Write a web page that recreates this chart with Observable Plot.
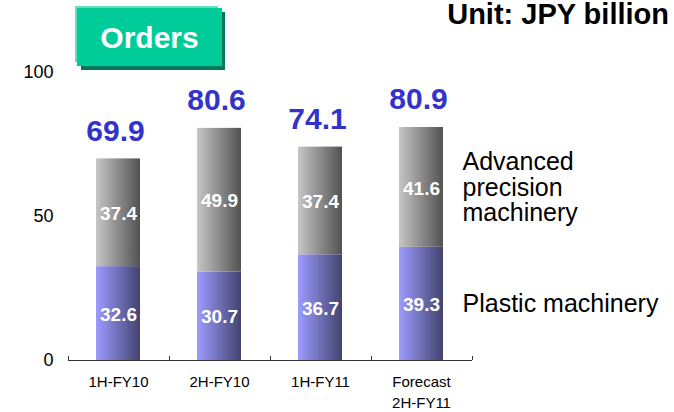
<!DOCTYPE html>
<html>
<head>
<meta charset="utf-8">
<script src="https://cdn.jsdelivr.net/npm/d3@7"></script>
<script src="https://cdn.jsdelivr.net/npm/@observablehq/plot@0.6"></script>
<style>
  html, body { margin: 0; padding: 0; background: #fff; }
  #wrap { position: relative; width: 674px; height: 412px; overflow: hidden; }
</style>
</head>
<body>
<div id="wrap"></div>
<script>
// ---- data ----
const categories = ["1H-FY10", "2H-FY10", "1H-FY11", "Forecast\n2H-FY11"];
const plastic = [32.6, 30.7, 36.7, 39.3];
const advanced = [37.4, 49.9, 37.4, 41.6];
const totals = [69.9, 80.6, 74.1, 80.9];
const seriesNames = ["Plastic machinery", "Advanced\nprecision\nmachinery"];
const seriesFills = ["url(#gradPlastic)", "url(#gradAdvanced)"];
const yTicks = [0, 50, 100];
const title = "Orders";
const unitLabel = "Unit: JPY billion";

// ---- table built from the arrays ----
const rows = [];
categories.forEach((c, i) => {
  rows.push({cat: c, series: 0, value: plastic[i], fill: seriesFills[0]});
  rows.push({cat: c, series: 1, value: advanced[i], fill: seriesFills[1]});
});
const totalRows = categories.map((c, i) => ({cat: c, total: totals[i]}));
const lastCat = categories[categories.length - 1];
const seriesLabelRows = seriesNames.map((name, s) => ({
  cat: lastCat, series: s, name,
  value: s === 0 ? plastic[plastic.length - 1] : advanced[advanced.length - 1]
}));

const FONT = "'Liberation Sans', Arial, Helvetica, sans-serif";

const plot = Plot.plot({
  width: 674,
  height: 412,
  marginLeft: 68,
  marginRight: 202,
  marginTop: 72,
  marginBottom: 52,
  style: {fontFamily: FONT, fontSize: "18px", color: "#000", background: "#fff", overflow: "visible"},
  x: {domain: categories, paddingInner: 0.56, paddingOuter: 0.28, axis: null},
  y: {domain: [0, 100], ticks: yTicks, tickSize: 0, tickPadding: 15, label: null, tickFormat: d => String(d)},
  color: {type: "identity"},
  marks: [
    Plot.barY(rows, Plot.stackY({x: "cat", y: "value", fill: "fill", order: "series"})),
    Plot.text(rows, Plot.stackY({
      x: "cat", y: "value", order: "series", text: d => d.value.toFixed(1),
      fill: "#fff", fontSize: 19, fontWeight: "bold", dy: 1
    })),
    Plot.text(totalRows, {
      x: "cat", y: "total", text: d => d.total.toFixed(1),
      fill: "#3333cc", fontSize: 30, fontWeight: "bold", dy: -28, dx: -3
    }),
    Plot.text(seriesLabelRows, Plot.stackY({
      x: "cat", y: "value", order: "series", text: "name",
      textAnchor: "start", dx: 41, fontSize: 25, lineHeight: 1.02, fill: "#000"
    })),
    Plot.text(categories, {
      x: d => d, y: () => 0, text: d => d, lineAnchor: "top",
      dy: 12, fontSize: 15, lineHeight: 1.4, fill: "#000"
    }),
    Plot.ruleY([0], {stroke: "#333", strokeWidth: 1})
  ]
});

document.getElementById("wrap").appendChild(plot);

// ---- gradients + decorations ----
const svg = d3.select(plot);
const defs = svg.insert("defs", ":first-child");
function grad(id, c0, c1) {
  const g = defs.append("linearGradient").attr("id", id)
    .attr("x1", "0").attr("y1", "0").attr("x2", "1").attr("y2", "0");
  g.append("stop").attr("offset", "0%").attr("stop-color", c0);
  g.append("stop").attr("offset", "100%").attr("stop-color", c1);
}
grad("gradPlastic", "#9c9cff", "#43436f");
grad("gradAdvanced", "#c6c6c6", "#525252");

// boundary ticks on the baseline, from the plot's own scales
const xs = plot.scale("x");
const ys = plot.scale("y");
const band = d3.scaleBand().domain(xs.domain).range(xs.range)
  .paddingInner(xs.paddingInner ?? 0.56).paddingOuter(xs.paddingOuter ?? 0.28).align(xs.align ?? 0.5);
const step = band.step(), bw = band.bandwidth();
const y0 = ys.apply ? ys.apply(0) : d3.scaleLinear().domain(ys.domain).range(ys.range)(0);
const bounds = categories.map(c => band(c) + bw / 2 - step / 2);
bounds.push(band(lastCat) + bw / 2 + step / 2);
const tg = svg.append("g").attr("stroke", "#333").attr("stroke-width", 1);
bounds.forEach(b => {
  tg.append("line").attr("x1", Math.round(b) + 0.5).attr("x2", Math.round(b) + 0.5)
    .attr("y1", y0 - 4).attr("y2", y0);
});

// Title badge "Orders"
const badge = svg.append("g");
badge.append("rect").attr("x", 75).attr("y", 6).attr("width", 143).attr("height", 56).attr("fill", "#66ddbb");
badge.append("rect").attr("x", 81).attr("y", 12).attr("width", 144).attr("height", 58).attr("fill", "#007a5a");
badge.append("rect").attr("x", 77).attr("y", 8).attr("width", 145).attr("height", 58).attr("fill", "#00cc99");
badge.append("text").attr("x", 149.5).attr("y", 48).attr("text-anchor", "middle")
  .attr("fill", "#fff").attr("font-weight", "bold").attr("font-size", 30)
  .attr("font-family", FONT).text(title);

// Unit label
svg.append("text").attr("x", 669).attr("y", 24).attr("text-anchor", "end")
  .attr("fill", "#000").attr("font-weight", "bold").attr("font-size", 29)
  .attr("font-family", FONT).text(unitLabel);
</script>
</body>
</html>
